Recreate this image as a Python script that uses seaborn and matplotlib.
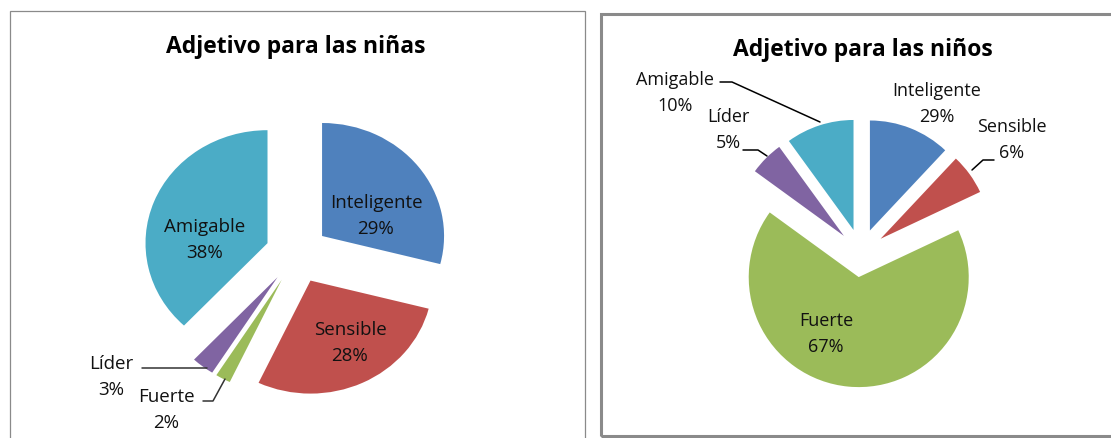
import matplotlib
matplotlib.use("Agg")
import matplotlib.pyplot as plt
import seaborn as sns
from matplotlib.patches import Rectangle

# --- DATA ---
CATEGORIES = ["Inteligente", "Sensible", "Fuerte", "Líder", "Amigable"]
NINAS_VALUES = [29, 28, 2, 3, 38]
NINAS_LABELS = ["29%", "28%", "2%", "3%", "38%"]
# slice sizes as drawn in the picture / percentages as printed on it
NINOS_VALUES = [12, 6, 67, 5, 10]
NINOS_LABELS = ["29%", "6%", "67%", "5%", "10%"]
COLORS = ["#4F81BD", "#C0504D", "#9BBB59", "#8064A2", "#4BACC6"]

W, H = 1111, 439  # figure size in pixels

# --- LAYOUT (pixels, y from top) ---
LEFT = dict(cx=297, cy=255, rx=122, ry=113, explode=0.26, fs=13.5,
            title="Adjetivo para las niñas", title_xy=(296, 53),
            label_xy=[(376, 216), (350, 343), (166, 410), (111, 377), (205, 240)],
            leaders=[None, None,
                     [(203, 402), (213, 402), (225, 380)],
                     [(142, 369), (207, 369)],
                     None])
RIGHT = dict(cx=861, cy=254, rx=110, ry=110, explode=0.22, fs=13,
             title="Adjetivo para las niños", title_xy=(863, 56),
             label_xy=[(937, 104), (1012, 140), (826, 334), (728, 130), (675, 93)],
             leaders=[None,
                      [(994, 161), (983, 161), (972, 171)],
                      None,
                      [(743, 151), (758, 151), (767, 157)],
                      [(720, 83), (732, 83), (820, 123)]])


def draw_pie(fig, cfg, values, labels, leader_color):
    cx, cy, rx, ry = cfg["cx"], cfg["cy"], cfg["rx"], cfg["ry"]

    def to_data(px, py):
        return (px - cx) / rx, (cy - py) / ry

    ax = fig.add_axes([0, 0, 1, 1])
    ax.pie(values, colors=COLORS, startangle=90, counterclock=False,
           explode=[cfg["explode"]] * len(values),
           wedgeprops=dict(linewidth=0))
    ax.set_aspect("auto")
    ax.set_xlim(-cx / rx, (W - cx) / rx)
    ax.set_ylim((cy - H) / ry, cy / ry)
    ax.set_axis_off()
    ax.patch.set_alpha(0)

    for cat, lab, (px, py), lead in zip(CATEGORIES, labels, cfg["label_xy"], cfg["leaders"]):
        x, y = to_data(px, py)
        ax.text(x, y, f"{cat}\n{lab}", ha="center", va="center",
                multialignment="center", fontsize=cfg["fs"], linespacing=1.6,
                color="#111111")
        if lead:
            pts = [to_data(*p) for p in lead]
            ax.plot([p[0] for p in pts], [p[1] for p in pts],
                    color=leader_color, lw=1.1)

    tx, ty = cfg["title_xy"]
    x, y = to_data(tx, ty)
    ax.text(x, y, cfg["title"], ha="center", va="baseline",
            fontsize=16.5, fontweight="bold", color="black")
    return ax


sns.set_theme(style="white")
plt.rcParams["font.family"] = ["Open Sans", "DejaVu Sans"]

fig = plt.figure(figsize=(W / 100, H / 100), dpi=100)
fig.patch.set_facecolor("white")

# panel frames
fig.add_artist(Rectangle((10 / W, -0.05), 575 / W, 1.05 - 12 / H,
                         transform=fig.transFigure, fill=False,
                         edgecolor="#8a8a8a", lw=0.9))
fig.add_artist(Rectangle((601 / W, 1 - 437 / H), 0.5, (437 - 15) / H,
                         transform=fig.transFigure, fill=False,
                         edgecolor="#8a8a8a", lw=2.2))

draw_pie(fig, LEFT, NINAS_VALUES, NINAS_LABELS, "#333333")
draw_pie(fig, RIGHT, NINOS_VALUES, NINOS_LABELS, "black")

fig.savefig("out.png", dpi=100, facecolor="white")
